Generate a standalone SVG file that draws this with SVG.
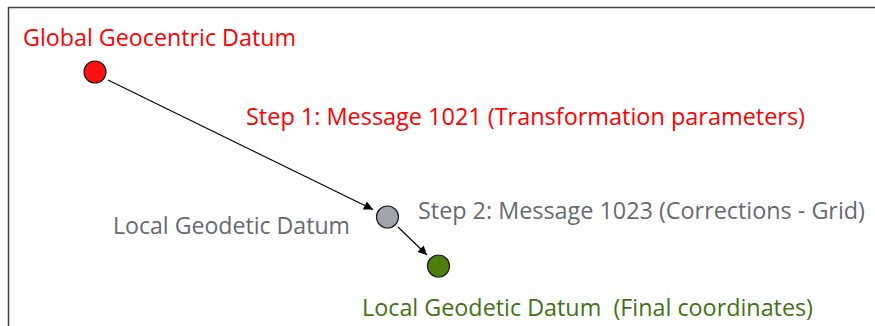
<svg xmlns="http://www.w3.org/2000/svg" width="875" height="326" viewBox="0 0 875 326">
  <style>
    .lbl { font-family: "Open Sans", "Noto Sans", "Liberation Sans", sans-serif; font-size: 23px; }
    .red { fill: #FF0000; }
    .gray { fill: #676A72; }
    .green { fill: #437214; }
    .node { stroke: #1A1A1A; stroke-width: 1.2; }
    .conn { stroke: #000000; stroke-width: 1.1; fill: none; marker-end: url(#arrow); }
    .frame { stroke: #404040; stroke-width: 1.5; fill: none; }
  </style>
  <defs>
    <marker id="arrow" viewBox="0 0 10 10" refX="10" refY="5" markerWidth="11" markerHeight="9" markerUnits="userSpaceOnUse" orient="auto">
      <path d="M0,0 L10,5 L0,10 Z" fill="#000000"/>
    </marker>
  </defs>
  <rect width="875" height="326" fill="#FFFFFF"/>
  <!-- frame: top and left edges -->
  <path class="frame" d="M8.5,326 V7.5 H875"/>

  <g id="connectors">
    <line class="conn" x1="108" y1="80" x2="373" y2="209.5"/>
    <line class="conn" x1="398" y1="227" x2="427" y2="255"/>
  </g>

  <g id="global-datum">
    <circle class="node" cx="95" cy="72" r="11" fill="#FF1111"/>
    <text class="lbl red" x="23" y="46" textLength="273" lengthAdjust="spacingAndGlyphs">Global Geocentric Datum</text>
  </g>

  <g id="step1">
    <text class="lbl red" x="246" y="125" textLength="559" lengthAdjust="spacingAndGlyphs">Step 1: Message 1021 (Transformation parameters)</text>
  </g>

  <g id="local-datum">
    <circle class="node" cx="387.5" cy="217" r="11" fill="#A1A3AD"/>
    <text class="lbl gray" x="113" y="234" textLength="237" lengthAdjust="spacingAndGlyphs">Local Geodetic Datum</text>
  </g>

  <g id="step2">
    <text class="lbl gray" x="418" y="219" textLength="447" lengthAdjust="spacingAndGlyphs">Step 2: Message 1023 (Corrections - Grid)</text>
  </g>

  <g id="final-datum">
    <circle class="node" cx="438.5" cy="266" r="11" fill="#4E7E0E"/>
    <text class="lbl green" x="362" y="316" textLength="451" lengthAdjust="spacingAndGlyphs" xml:space="preserve">Local Geodetic Datum  (Final coordinates)</text>
  </g>
</svg>
